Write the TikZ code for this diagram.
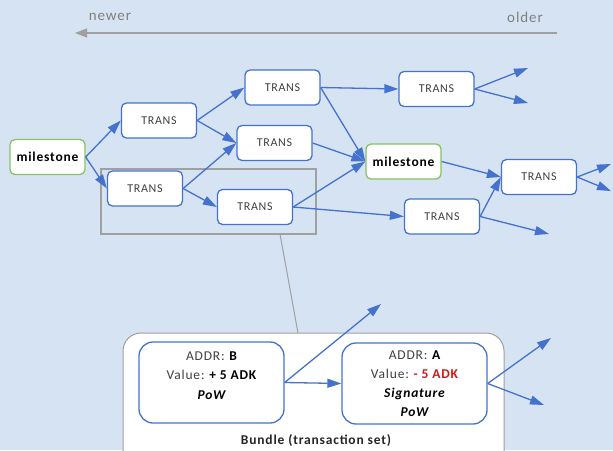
\documentclass[tikz,border=0pt]{standalone}
\usepackage{fontspec}
\setmainfont[LetterSpace=6]{Carlito}
\usetikzlibrary{arrows.meta}
\definecolor{bgblue}{RGB}{214,227,242}
\definecolor{lineblue}{RGB}{68,114,206}
\definecolor{msgreen}{RGB}{135,195,100}
\definecolor{txtgray}{RGB}{64,64,64}
\definecolor{axisgray}{RGB}{160,160,160}
\definecolor{valred}{RGB}{210,25,25}
\tikzset{
  trans/.style={draw=lineblue, line width=1.3pt, fill=white, rounded corners=5pt,
    minimum width=75pt, minimum height=35pt, inner sep=0pt,
    font=\fontsize{12}{12}\selectfont, text=txtgray},
  mstone/.style={trans, draw=msgreen, font=\fontsize{13.5}{13.5}\selectfont\bfseries, text=black},
  link/.style={draw=lineblue, line width=1.3pt, -{Triangle[length=14pt,width=9pt]}},
  txbox/.style={draw=lineblue, line width=1.3pt, fill=white, rounded corners=14pt,
    minimum width=145pt, minimum height=81pt, inner sep=0pt, align=center,
    font=\fontsize{13.5}{19.5}\selectfont, text=txtgray},
  bundlebox/.style={draw=axisgray, line width=1pt, fill=white, rounded corners=18pt,
    minimum width=381pt, minimum height=140pt, inner sep=0pt},
  grouprect/.style={draw=axisgray, line width=1.1pt, minimum width=215pt,
    minimum height=65pt, inner sep=0pt},
  timelbl/.style={text=axisgray!80!black, font=\fontsize{15}{15}\selectfont}
}
\begin{document}
\begin{tikzpicture}[x=1pt,y=-1pt]
  \fill[bgblue] (0,0) rectangle (613,450);
  \useasboundingbox (0,0) rectangle (613,450);
  \clip (0,0) rectangle (613,450);

  % time axis
  \node[timelbl] (newer) at (110,17) {newer};
  \node[timelbl] (older) at (525,17) {older};
  \coordinate (axR) at (557,33);
  \coordinate (axL) at (75,33);
  \draw[axisgray, line width=1.3pt, -{Triangle[length=12pt,width=9pt]}] (axR) -- (axL);

  % selection frame and its pointer
  \node[grouprect] (grp) at (208.5,201.5) {};

  % transactions
  \node[mstone] (m1) at (47.5,157) {milestone};
  \node[trans] (t1) at (159,120.5) {TRANS};
  \node[trans] (t2) at (145,188.5) {TRANS};
  \node[trans] (t3) at (282.5,87.5) {TRANS};
  \node[trans] (t4) at (274.5,143) {TRANS};
  \node[trans] (t5) at (255,207) {TRANS};
  \node[trans] (t6) at (436.5,89) {TRANS};
  \node[mstone] (m2) at (403.5,161.5) {milestone};
  \node[trans] (t7) at (539,177) {TRANS};
  \node[trans] (t8) at (442,216.5) {TRANS};

  % open ends
  \coordinate (o6a) at (528,68);
  \coordinate (o6b) at (528,103);
  \coordinate (o7a) at (611,164);
  \coordinate (o7b) at (611,191);
  \coordinate (o8) at (549,234);

  \draw[link] (m1.east) -- (t1.west);
  \draw[link] (m1.east) -- (t2.west);
  \draw[link] (t1.east) -- (t3.west);
  \draw[link] (t1.east) -- (t4.west);
  \draw[link] (t2.east) -- (t4.west);
  \draw[link] (t2.east) -- (t5.west);
  \draw[link] (t3.east) -- (t6.west);
  \draw[link] (t3.east) -- (m2.west);
  \draw[link] (t4.east) -- (m2.west);
  \draw[link] (t5.east) -- (m2.west);
  \draw[link] (t5.east) -- (t8.west);
  \draw[link] (t6.east) -- (o6a);
  \draw[link] (t6.east) -- (o6b);
  \draw[link] (m2.east) -- (t7.west);
  \draw[link] (t8.east) -- (t7.west);
  \draw[link] (t8.east) -- (o8);
  \draw[link] (t7.east) -- (o7a);
  \draw[link] (t7.east) -- (o7b);

  % bundle detail
  \node[bundlebox] (bundle) at (313.5,403) {};
  \coordinate (gp1) at (280,234);
  \coordinate (gp2) at (298,333);
  \draw[axisgray, line width=1pt] (gp1) -- (gp2);
  \node[font=\fontsize{13.5}{13.5}\selectfont\bfseries, text=black!85] (blbl) at (316,441) {Bundle (transaction set)};

  \node[txbox] (txB) at (211.5,382.5) {ADDR: \textbf{\textcolor{black}{B}}\\Value:\ \textbf{\textcolor{black}{+ 5 ADK}}\\\textbf{\textit{\textcolor{black}{PoW}}}\\[-5pt]\mbox{}};
  \node[txbox, font=\fontsize{13.5}{19}\selectfont] (txA) at (414.5,383.5) {ADDR: \textbf{\textcolor{black}{A}}\\Value:\ \textbf{\textcolor{valred}{- 5 ADK}}\\\textbf{\textit{\textcolor{black}{Signature}}}\\\textbf{\textit{\textcolor{black}{PoW}}}};

  \coordinate (oB) at (381,304);
  \coordinate (oAa) at (551,338);
  \coordinate (oAb) at (544,405);
  \draw[link] (txB.east) -- (txA.west);
  \draw[link] (txB.east) -- (oB);
  \draw[link] (txA.east) -- (oAa);
  \draw[link] (txA.east) -- (oAb);
\end{tikzpicture}
\end{document}
